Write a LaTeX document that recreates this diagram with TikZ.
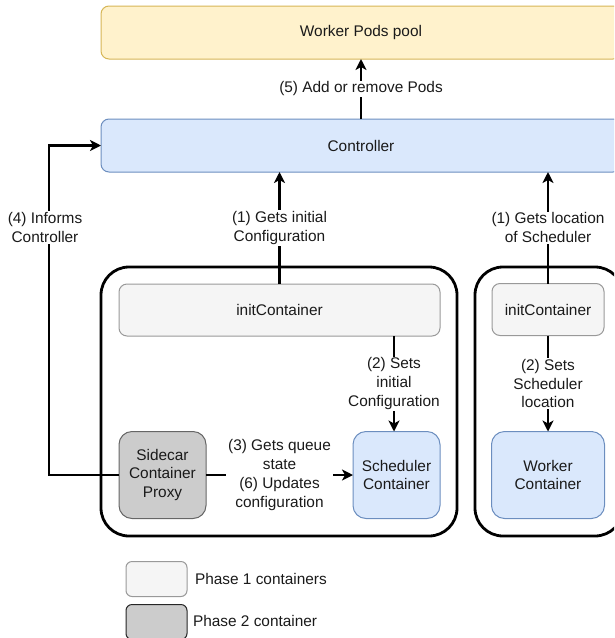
\documentclass[tikz,border=0pt]{standalone}
\usepackage{fontspec}
\setmainfont{Liberation Sans}
\usetikzlibrary{arrows.meta}

\definecolor{poolfill}{HTML}{FFF2CC}
\definecolor{pooldraw}{HTML}{D6B656}
\definecolor{bluefill}{HTML}{DAE8FC}
\definecolor{bluedraw}{HTML}{6C8EBF}
\definecolor{lightfill}{HTML}{F5F5F5}
\definecolor{lightdraw}{HTML}{999999}
\definecolor{darkfill}{HTML}{CCCCCC}
\definecolor{darkdraw}{HTML}{666666}
\definecolor{txt}{HTML}{1A1A1A}

\tikzset{
  every node/.style={font=\fontsize{15.4pt}{18.8pt}\selectfont, text=txt, outer sep=0pt},
  box/.style={draw, line width=1pt, align=center, inner sep=0pt},
  wide/.style={box, minimum height=53pt, rounded corners=8pt},
  pool/.style={wide, fill=poolfill, draw=pooldraw},
  ctrlbox/.style={wide, fill=bluefill, draw=bluedraw},
  initbox/.style={box, minimum height=52pt, rounded corners=8pt, fill=lightfill, draw=lightdraw},
  bluebox/.style={box, minimum width=87pt, minimum height=87pt, rounded corners=13pt, fill=bluefill, draw=bluedraw},
  sidebox/.style={box, minimum width=87pt, minimum height=87pt, rounded corners=13pt, fill=darkfill, draw=darkdraw},
  podbox/.style={draw=black, line width=2.8pt, rounded corners=28pt},
  arr/.style={line width=2.4pt, -{Stealth[length=11pt, width=11pt, inset=3pt]}},
  lbl/.style={fill=white, align=center, inner xsep=2pt, inner ysep=1pt},
  legtext/.style={anchor=west, inner sep=0pt}
}

\begin{document}
\begin{tikzpicture}[x=1pt, y=-1pt]
\useasboundingbox (0,0) rectangle (614,638);
\clip (0,0) rectangle (614,638);

% pod outlines
\draw[podbox] (101,267) rectangle (457,536);
\draw[podbox] (475,267) rectangle (623,536);

% top level boxes
\node[pool, minimum width=520pt] (pool) at (361,32.5) {Worker Pods pool};
\node[ctrlbox, minimum width=520pt] (ctrl) at (361,145.5) {Controller};

% scheduler pod
\node[initbox, minimum width=321pt] (init1) at (279.5,310) {initContainer};
\node[bluebox] (sched) at (396.5,475) {Scheduler\\Container};
\node[sidebox] (side) at (162.5,475) {Sidecar\\Container\\Proxy};

% worker pod
\node[initbox, minimum width=112pt] (init2) at (548,309.5) {initContainer};
\node[bluebox, minimum width=113pt] (worker) at (548,475) {Worker\\Container};

% connectors
\draw[arr] (ctrl.north) -- (pool.south)
  node[lbl, midway] {(5) Add or remove Pods};
\draw[arr] (init1.north) -- (init1.north |- ctrl.south)
  node[lbl, midway] {(1) Gets initial\\Configuration};
\draw[arr] (init1.south -| 394,0) -- (sched.north -| 394,0)
  node[lbl, midway] {(2) Sets\\initial\\Configuration};
\draw[arr] (side.east) -- (sched.west)
  node[lbl, midway] {(3) Gets queue\\state\\(6) Updates\\configuration};
\coordinate (bend) at (49,0);
\draw[arr] (side.west) -- (side.west -| bend) -- (bend |- ctrl.west) -- (ctrl.west);
\node[lbl] (informs) at (45,227.5) {(4) Informs\\Controller};
\draw[arr] (init2.north) -- (init2.north |- ctrl.south)
  node[lbl, midway] {(1) Gets location\\of Scheduler};
\draw[arr] (init2.south) -- (worker.north)
  node[lbl, midway] {(2) Sets\\Scheduler\\location};

% legend
\node[box, minimum width=61pt, minimum height=35pt, rounded corners=6pt, fill=lightfill, draw=lightdraw] (leg1) at (156.5,579) {};
\node[legtext] (leg1t) at (195,579) {Phase 1 containers};
\node[box, minimum width=61pt, minimum height=35pt, rounded corners=6pt, fill=darkfill, draw=black!85] (leg2) at (156.5,622) {};
\node[legtext] (leg2t) at (193,621) {Phase 2 container};
\end{tikzpicture}
\end{document}
